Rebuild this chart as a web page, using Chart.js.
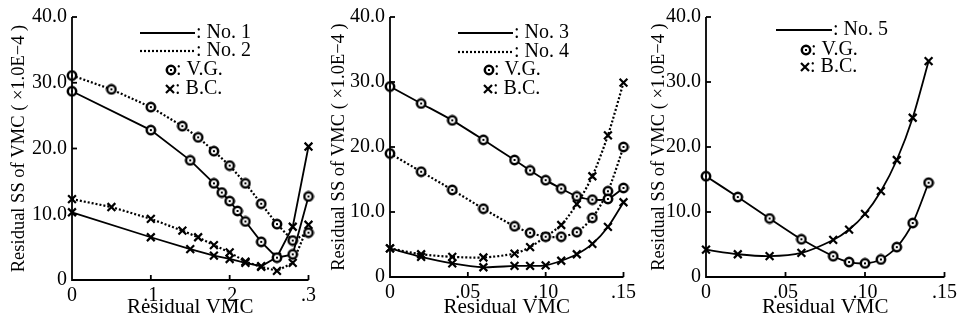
<!DOCTYPE html>
<html>
<head>
<meta charset="utf-8">
<script src="https://cdn.jsdelivr.net/npm/chart.js@4.4.1/dist/chart.umd.min.js"></script>
<style>
	body { margin: 0; background: #fff; }
	#wrap { position: relative; width: 961px; height: 323px; }
	.painel { position: absolute; top: 0; height: 323px; }
</style>
</head>
<body>
<div id="wrap">
	<div class="painel" style="left:0px; width:320px"><canvas id="grafico1"></canvas></div>
	<div class="painel" style="left:320px; width:320px"><canvas id="grafico2"></canvas></div>
	<div class="painel" style="left:640px; width:321px"><canvas id="grafico3"></canvas></div>
</div>
<script>
// ---- dados ----
// Painel 1 (No. 1 e No. 2)
var p1_xVG1 = [0, 0.1, 0.15, 0.18, 0.19, 0.2, 0.21, 0.22, 0.24, 0.26, 0.28, 0.3];
var p1_yVG1 = [28.7, 22.8, 18.2, 14.7, 13.3, 12.0, 10.5, 8.9, 5.8, 3.4, 3.9, 12.7];
var p1_xBC1 = [0, 0.1, 0.15, 0.18, 0.2, 0.22, 0.24, 0.26, 0.28, 0.3];
var p1_yBC1 = [10.3, 6.5, 4.7, 3.7, 3.2, 2.6, 2.1, 3.5, 8.1, 20.3];
var p1_xVG2 = [0, 0.05, 0.1, 0.14, 0.16, 0.18, 0.2, 0.22, 0.24, 0.26, 0.28, 0.3];
var p1_yVG2 = [31.1, 29.0, 26.3, 23.4, 21.7, 19.6, 17.4, 14.7, 11.6, 8.5, 6.0, 7.2];
var p1_xBC2 = [0, 0.05, 0.1, 0.14, 0.16, 0.18, 0.2, 0.22, 0.24, 0.26, 0.28, 0.3];
var p1_yBC2 = [12.3, 11.1, 9.3, 7.5, 6.5, 5.3, 4.2, 2.8, 2.0, 1.4, 2.6, 8.4];
var p1_xTicks = [0, 0.1, 0.2, 0.3];
var p1_xTickLabels = ["0", ".1", ".2", ".3"];

// Painel 2 (No. 3 e No. 4)
var p2_x = [0, 0.02, 0.04, 0.06, 0.08, 0.09, 0.10, 0.11, 0.12, 0.13, 0.14, 0.15];
var p2_yVG3 = [29.3, 26.7, 24.1, 21.1, 18.0, 16.4, 14.9, 13.6, 12.4, 11.9, 12.0, 13.7];
var p2_yBC3 = [4.4, 3.1, 2.1, 1.5, 1.7, 1.7, 1.8, 2.5, 3.5, 5.1, 7.7, 11.5];
var p2_yVG4 = [19.0, 16.2, 13.4, 10.5, 7.8, 6.8, 6.2, 6.2, 6.9, 9.1, 13.2, 20.0];
var p2_yBC4 = [4.4, 3.5, 3.1, 3.0, 3.6, 4.6, 6.2, 8.0, 11.2, 15.5, 21.8, 29.9];

// Painel 3 (No. 5)
var p3_x = [0, 0.02, 0.04, 0.06, 0.08, 0.09, 0.10, 0.11, 0.12, 0.13, 0.14];
var p3_yVG5 = [15.5, 12.3, 9.0, 5.8, 3.2, 2.3, 2.1, 2.7, 4.6, 8.3, 14.5];
var p3_yBC5 = [4.2, 3.5, 3.2, 3.7, 5.7, 7.3, 9.7, 13.2, 18.0, 24.5, 33.2];

var p23_xTicks = [0, 0.05, 0.10, 0.15];
var p23_xTickLabels = ["0", ".05", ".10", ".15"];
var yTicks = [0, 10, 20, 30, 40];
var yTickLabels = ["0", "10.0", "20.0", "30.0", "40.0"];

var tituloY = "Residual SS of VMC ( \u00d71.0E\u22124 )";
var tituloX = "Residual VMC";

var fonte = "'Liberation Serif', 'DejaVu Serif', serif";

// marcador circular com ponto no meio
function criarCirculo() {
	var c = document.createElement("canvas");
	c.width = 12;
	c.height = 12;
	var ctx = c.getContext("2d");
	ctx.fillStyle = "#fff";
	ctx.strokeStyle = "#000";
	ctx.lineWidth = 2.5;
	ctx.beginPath();
	ctx.arc(6, 6, 4.2, 0, Math.PI * 2);
	ctx.fill();
	ctx.stroke();
	ctx.fillStyle = "#000";
	ctx.fillRect(5, 5, 2, 2);
	return c;
}
var marcaCirculo = criarCirculo();

function pontos(xs, ys) {
	var arr = [];
	for (var i = 0; i < xs.length; i++) {
		arr.push({ x: xs[i], y: ys[i] });
	}
	return arr;
}

function serie(xs, ys, tipo, tracejado, tensao) {
	return {
		data: pontos(xs, ys),
		borderColor: "#000",
		backgroundColor: "#000",
		borderWidth: tracejado ? 2.2 : 1.8,
		borderDash: tracejado ? [2, 2] : [],
		tension: tensao,
		pointStyle: tipo == "circulo" ? marcaCirculo : "crossRot",
		pointRadius: 5.5,
		pointBorderWidth: 2.2,
		pointBorderColor: "#000",
		clip: false,
	};
}

// desenha eixos, ticks para dentro e a legenda de texto
var pluginEixos = {
	id: "eixos",
	afterDraw: function (chart) {
		var ctx = chart.ctx;
		var a = chart.chartArea;
		var sx = chart.scales.x;
		var sy = chart.scales.y;
		var cfg = chart.options.plugins.eixos;
		ctx.save();
		ctx.strokeStyle = "#000";
		ctx.lineWidth = 1.8;
		ctx.setLineDash([]);
		ctx.beginPath();
		ctx.moveTo(a.left, sy.getPixelForValue(40));
		ctx.lineTo(a.left, a.bottom);
		ctx.lineTo(sx.getPixelForValue(cfg.xMax), a.bottom);
		ctx.stroke();
		for (var i = 1; i < yTicks.length; i++) {
			var py = sy.getPixelForValue(yTicks[i]);
			ctx.beginPath();
			ctx.moveTo(a.left, py);
			ctx.lineTo(a.left + 5, py);
			ctx.stroke();
		}
		for (var j = 1; j < cfg.xTicks.length; j++) {
			var px = sx.getPixelForValue(cfg.xTicks[j]);
			ctx.beginPath();
			ctx.moveTo(px, a.bottom);
			ctx.lineTo(px, a.bottom - 5);
			ctx.stroke();
		}

		// legenda
		ctx.font = "20px " + fonte;
		ctx.fillStyle = "#000";
		ctx.textBaseline = "middle";
		for (var k = 0; k < cfg.legenda.length; k++) {
			var item = cfg.legenda[k];
			if (item.tipo == "linha") {
				ctx.lineWidth = item.tracejado ? 2.2 : 1.8;
				ctx.setLineDash(item.tracejado ? [2, 2] : []);
				ctx.beginPath();
				ctx.moveTo(item.x0, item.y);
				ctx.lineTo(item.x1, item.y);
				ctx.stroke();
				ctx.setLineDash([]);
				ctx.fillText(item.texto, item.x1 + 1, item.y);
			} else if (item.tipo == "circulo") {
				ctx.drawImage(marcaCirculo, Math.round(item.x - 6), Math.round(item.y - 6));
				ctx.fillText(item.texto, item.x + 5, item.y);
			} else {
				ctx.lineWidth = 2.2;
				ctx.beginPath();
				ctx.moveTo(item.x - 4, item.y - 4);
				ctx.lineTo(item.x + 4, item.y + 4);
				ctx.moveTo(item.x + 4, item.y - 4);
				ctx.lineTo(item.x - 4, item.y + 4);
				ctx.stroke();
				ctx.fillText(item.texto, item.x + 5, item.y);
			}
		}
		ctx.restore();
	},
};

function opcoes(xMax, xTicks, xTickLabels, larguraY, alturaX, padDir, padTopo, legenda) {
	return {
		responsive: true,
		maintainAspectRatio: false,
		animation: false,
		layout: { padding: { left: 0, right: padDir, top: padTopo, bottom: 0 } },
		plugins: {
			legend: { display: false },
			tooltip: { enabled: false },
			eixos: { xMax: xMax, xTicks: xTicks, legenda: legenda },
		},
		scales: {
			x: {
				type: "linear",
				min: 0,
				max: xMax,
				grid: { display: false, drawTicks: false },
				border: { display: false },
				afterBuildTicks: function (scale) {
					scale.ticks = xTicks.map(function (v) { return { value: v }; });
				},
				afterFit: function (scale) {
					scale.height = alturaX;
				},
				ticks: {
					color: "#000",
					padding: 4,
					maxRotation: 0,
					font: { family: fonte, size: 20 },
					callback: function (v) {
						var idx = xTicks.indexOf(v);
						return idx >= 0 ? xTickLabels[idx] : "";
					},
				},
				title: {
					display: true,
					text: tituloX,
					color: "#000",
					font: { family: fonte, size: 21 },
					padding: { top: 0, bottom: 3 },
				},
			},
			y: {
				min: 0,
				max: 40,
				grid: { display: false, drawTicks: false },
				border: { display: false },
				afterBuildTicks: function (scale) {
					scale.ticks = yTicks.map(function (v) { return { value: v }; });
				},
				afterFit: function (scale) {
					scale.width = larguraY;
				},
				ticks: {
					color: "#000",
					padding: 5,
					font: { family: fonte, size: 20 },
					callback: function (v) {
						var idx = yTicks.indexOf(v);
						return idx >= 0 ? yTickLabels[idx] : "";
					},
				},
				title: {
					display: true,
					text: tituloY,
					color: "#000",
					font: { family: fonte, size: 18.5 },
					padding: { top: 8, bottom: 0 },
				},
			},
		},
	};
}

new Chart(document.getElementById("grafico1"), {
	type: "line",
	data: {
		datasets: [
			serie(p1_xVG1, p1_yVG1, "circulo", false, 0),
			serie(p1_xBC1, p1_yBC1, "cruz", false, 0),
			serie(p1_xVG2, p1_yVG2, "circulo", true, 0),
			serie(p1_xBC2, p1_yBC2, "cruz", true, 0),
		],
	},
	options: opcoes(0.3, p1_xTicks, p1_xTickLabels, 72, 43, 9, 16, [
		{ tipo: "linha", tracejado: false, x0: 140, x1: 195, y: 33, texto: ": No. 1" },
		{ tipo: "linha", tracejado: true, x0: 140, x1: 195, y: 51, texto: ": No. 2" },
		{ tipo: "circulo", x: 171, y: 70, texto: ": V.G." },
		{ tipo: "cruz", x: 170, y: 89, texto: ": B.C." },
	]),
	plugins: [pluginEixos],
});

new Chart(document.getElementById("grafico2"), {
	type: "line",
	data: {
		datasets: [
			serie(p2_x, p2_yVG3, "circulo", false, 0.25),
			serie(p2_x, p2_yBC3, "cruz", false, 0.25),
			serie(p2_x, p2_yVG4, "circulo", true, 0.25),
			serie(p2_x, p2_yBC4, "cruz", true, 0.25),
		],
	},
	options: opcoes(0.15, p23_xTicks, p23_xTickLabels, 70, 46, 12, 16, [
		{ tipo: "linha", tracejado: false, x0: 138, x1: 193, y: 33, texto: ": No. 3" },
		{ tipo: "linha", tracejado: true, x0: 138, x1: 193, y: 52, texto: ": No. 4" },
		{ tipo: "circulo", x: 169, y: 70, texto: ": V.G." },
		{ tipo: "cruz", x: 168, y: 89, texto: ": B.C." },
	]),
	plugins: [pluginEixos],
});

new Chart(document.getElementById("grafico3"), {
	type: "line",
	data: {
		datasets: [
			serie(p3_x, p3_yVG5, "circulo", false, 0.25),
			serie(p3_x, p3_yBC5, "cruz", false, 0.25),
		],
	},
	options: opcoes(0.15, p23_xTicks, p23_xTickLabels, 66, 46, 15, 15, [
		{ tipo: "linha", tracejado: false, x0: 136, x1: 192, y: 30, texto: ": No. 5" },
		{ tipo: "circulo", x: 166, y: 50, texto: ": V.G." },
		{ tipo: "cruz", x: 165, y: 67, texto: ": B.C." },
	]),
	plugins: [pluginEixos],
});
</script>
</body>
</html>
